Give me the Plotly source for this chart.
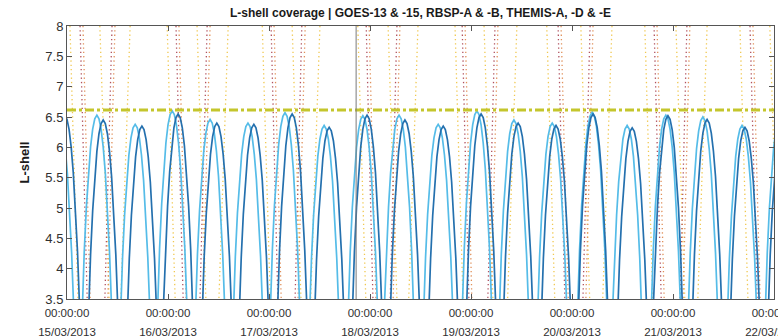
import plotly.graph_objects as go
from datetime import datetime, timedelta

# ---------------- data (hours since 15/03/2013 00:00 UT) ----------------
START = datetime(2013, 3, 15)
DAY_TICKS = [datetime(2013, 3, d) for d in range(15, 23)]
TICK_TIME = ["00:00:00"] * 8
TICK_DATE = ["15/03/2013", "16/03/2013", "17/03/2013", "18/03/2013",
             "19/03/2013", "20/03/2013", "21/03/2013", "22/03/2013"]
Y_TICKS = [3.5, 4, 4.5, 5, 5.5, 6, 6.5, 7, 7.5, 8]
Y_TICKTEXT = ["3.5", "4", "4.5", "5", "5.5", "6", "6.5", "7", "7.5", "8"]

# GOES (geostationary, nearly constant L)
GOES_H = [0, 24, 48, 72, 96, 120, 144, 168]
GOES13_L = [6.62, 6.62, 6.62, 6.62, 6.62, 6.62, 6.62, 6.62]
GOES15_L = [6.61, 6.61, 6.61, 6.61, 6.61, 6.61, 6.61, 6.61]

# RBSP apogee times (h) and apogee L
RBSPA_APO_H = [-0.5, 8.6, 17.8, 26.4, 35.6, 44.4, 53.5, 62.3, 71.3, 80.3,
               89.4, 98.4, 107.2, 116.2, 125.0, 134.3, 142.8, 152.1, 161.1, 170.1]
RBSPA_APO_L = [6.52, 6.45, 6.35, 6.55, 6.40, 6.38, 6.55, 6.33, 6.53, 6.45,
               6.35, 6.55, 6.40, 6.36, 6.55, 6.32, 6.52, 6.46, 6.33, 6.45]
RBSPB_APO_H = [-1.9, 7.1, 16.2, 25.0, 34.0, 43.0, 51.8, 61.1, 70.3, 78.9,
               88.2, 97.4, 106.2, 115.3, 124.8, 133.1, 142.3, 151.1, 160.4, 169.4]
RBSPB_APO_L = [6.50, 6.53, 6.38, 6.60, 6.46, 6.40, 6.57, 6.36, 6.52, 6.53,
               6.38, 6.60, 6.45, 6.40, 6.58, 6.36, 6.53, 6.50, 6.36, 6.50]
# typical arch shape: hours from apogee, L / L_apogee
PROFILE_DT_H = [0.0, 0.5, 1.0, 1.5, 2.0, 2.5, 3.0, 3.5, 4.0]
PROFILE_RATIO = [1.0, 0.991, 0.965, 0.920, 0.855, 0.768, 0.656, 0.512, 0.334]

# THEMIS crossings of the plotted L band: time at L=8 and time at L=3.5 (h)
THA_T_L8 = [7.8, 30.9, 53.5, 76.3, 99.1, 122.1, 144.7, 167.0,
            15.0, 38.3, 60.1, 83.4, 106.9, 129.5, 152.1,
            0.7, 23.8, 46.4, 69.1, 92.2, 114.0, 137.3, 159.9]
THA_T_L35 = [10.0, 33.0, 55.6, 78.4, 101.2, 124.2, 146.8, 169.1,
             12.8, 36.1, 57.9, 81.2, 104.7, 127.3, 149.9,
             2.6, 25.7, 48.3, 71.0, 94.1, 115.9, 139.2, 161.8]
THD_T_L8 = [3.8, 26.6, 49.2, 71.8, 94.6, 117.4, 140.2, 163.0,
            11.4, 34.0, 56.6, 79.1, 102.4, 125.0, 148.0]
THD_T_L35 = [5.5, 28.3, 50.9, 73.4, 96.2, 119.1, 141.9, 164.7,
             9.7, 32.3, 54.9, 77.5, 100.8, 123.3, 146.4]
THE_T_L8 = [3.1, 25.9, 48.5, 71.1, 93.9, 116.7, 139.5, 162.3,
            10.7, 33.3, 55.8, 78.4, 101.7, 124.3, 147.3]
THE_T_L35 = [4.8, 27.6, 50.1, 72.7, 95.5, 118.3, 141.2, 164.0,
             9.0, 31.6, 54.2, 76.8, 100.0, 122.6, 145.7]

EVENT_H = 68.7  # vertical marker line

# ---------------- helpers ----------------
def to_time(h):
    return START + timedelta(hours=h)


def rbsp_curve(apo_h, apo_l):
    xs, ys = [], []
    for th, la in zip(apo_h, apo_l):
        offs = [-d for d in PROFILE_DT_H[::-1]] + PROFILE_DT_H[1:]
        rats = PROFILE_RATIO[::-1] + PROFILE_RATIO[1:]
        for d, r in zip(offs, rats):
            xs.append(to_time(th + d))
            ys.append(la * r)
    return xs, ys


def crossings(t8, t35):
    xs, ys = [], []
    for a, b in zip(t8, t35):
        xs += [to_time(a), to_time(b), None]
        ys += [8.0, 3.5, None]
    return xs, ys


fig = go.Figure()

dot = "1.3px,3px"
for name, t8, t35, col in [("THEMIS-A", THA_T_L8, THA_T_L35, "#F0C850"),
                           ("THEMIS-D", THD_T_L8, THD_T_L35, "#E0905A"),
                           ("THEMIS-E", THE_T_L8, THE_T_L35, "#B0505E")]:
    x, y = crossings(t8, t35)
    fig.add_trace(go.Scatter(x=x, y=y, mode="lines", name=name,
                             line=dict(color=col, width=1.3, dash=dot)))

for name, ah, al, col in [("RBSP-B", RBSPB_APO_H, RBSPB_APO_L, "#55BCE8"),
                          ("RBSP-A", RBSPA_APO_H, RBSPA_APO_L, "#2470AE")]:
    x, y = rbsp_curve(ah, al)
    fig.add_trace(go.Scatter(x=x, y=y, mode="lines", name=name,
                             line=dict(color=col, width=1.7)))

for name, ll in [("GOES-13", GOES13_L), ("GOES-15", GOES15_L)]:
    fig.add_trace(go.Scatter(x=[to_time(h) for h in GOES_H], y=ll, mode="lines",
                             name=name,
                             line=dict(color="#C4C62C", width=2.5,
                                       dash="9px,3px,3px,3px")))

# helper trace binding the date-label axis
fig.add_trace(go.Scatter(x=DAY_TICKS, y=[None] * len(DAY_TICKS), xaxis="x2",
                         mode="lines", showlegend=False, hoverinfo="skip"))

fig.add_vline(x=to_time(EVENT_H), line=dict(color="#7a7a7a", width=1))

xr = [DAY_TICKS[0], DAY_TICKS[-1]]
axcol = "#555555"
fig.update_layout(
    width=778, height=336,
    margin=dict(l=67, r=4, t=26, b=37, autoexpand=False),
    plot_bgcolor="white", paper_bgcolor="white",
    showlegend=False,
    font=dict(family="Liberation Sans, Arial, sans-serif", color="#303030"),
    title=dict(text="<b>L-shell coverage | GOES-13 & -15, RBSP-A & -B, THEMIS-A, -D & -E</b>",
               x=0.5, xref="paper", xanchor="center",
               y=1 - 13 / 336, yref="container", yanchor="middle",
               font=dict(size=12, color="#1a1a1a")),
    xaxis=dict(type="date", range=xr, tickvals=DAY_TICKS, ticktext=TICK_TIME,
               ticks="inside", ticklen=5, tickcolor=axcol, showline=True,
               linecolor=axcol, linewidth=1, mirror="ticks", showgrid=False,
               zeroline=False, tickfont=dict(size=11.5, color="#303030"),
               ticklabelstandoff=3, ticklabeloverflow="allow", automargin=False),
    xaxis2=dict(type="date", range=xr, overlaying="x", anchor="y", side="bottom",
                tickvals=DAY_TICKS, ticktext=TICK_DATE, ticks="", showline=False,
                showgrid=False, zeroline=False,
                tickfont=dict(size=11.5, color="#303030"),
                ticklabelstandoff=24, ticklabeloverflow="allow", automargin=False),
    yaxis=dict(range=[3.5, 8], tickvals=Y_TICKS, ticktext=Y_TICKTEXT,
               ticks="inside", ticklen=5, tickcolor=axcol, showline=True,
               linecolor=axcol, linewidth=1, mirror="ticks", showgrid=False,
               zeroline=False, tickfont=dict(size=13, color="#303030"),
               automargin=False,
               title=dict(text="<b>L-shell</b>", font=dict(size=13, color="#1a1a1a"),
                          standoff=12)),
)

fig.write_html("out.html")
